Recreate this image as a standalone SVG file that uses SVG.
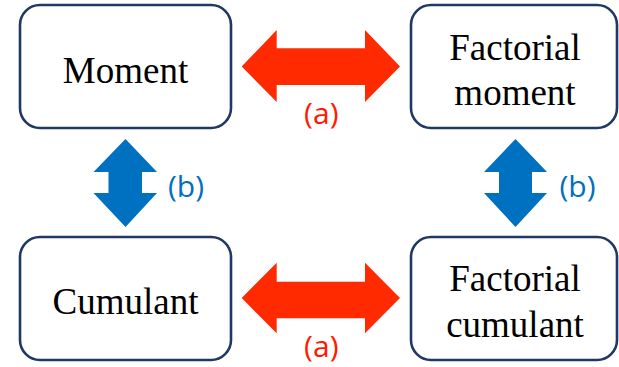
<svg xmlns="http://www.w3.org/2000/svg" width="619" height="367" viewBox="0 0 619 367">
<style>
.box{fill:#fff;stroke:#1f3864;stroke-width:2.6}
.t{font-family:"Liberation Serif","Times New Roman",serif;font-size:37px;fill:#000;text-anchor:middle}
.red{fill:#ff2a00}
.blue{fill:#0070c0}
.la{font-family:"Open Sans","Noto Sans",sans-serif;font-size:30px;fill:#ff1a00;text-anchor:middle}
.lb{font-family:"Open Sans","Noto Sans",sans-serif;font-size:30px;fill:#0070c0;text-anchor:middle}
</style>
<rect width="619" height="367" fill="#fff"/>
<g id="moment">
<rect class="box" x="20" y="5" width="211" height="123" rx="20"/>
<text class="t" x="125.5" y="82.5">Moment</text>
</g>
<g id="factorial-moment">
<rect class="box" x="411" y="5" width="206" height="123" rx="20"/>
<text class="t" x="515" y="60">Factorial</text>
<text class="t" x="515" y="105">moment</text>
</g>
<g id="cumulant">
<rect class="box" x="20" y="237" width="211" height="123" rx="20"/>
<text class="t" x="125.5" y="314">Cumulant</text>
</g>
<g id="factorial-cumulant">
<rect class="box" x="411" y="237" width="206" height="123" rx="20"/>
<text class="t" x="515" y="291">Factorial</text>
<text class="t" x="515" y="336.5">cumulant</text>
</g>
<g id="connectors">
<path class="red" d="M241.7,66.5 L276.7,30 L276.7,48.3 L365,48.3 L365,30 L400,66.5 L365,102 L365,85 L276.7,85 L276.7,102 Z"/>
<path class="red" d="M241.7,298 L276.7,262.7 L276.7,281.7 L365,281.7 L365,262.7 L400,298 L365,333.3 L365,318.3 L276.7,318.3 L276.7,333.3 Z"/>
<path class="blue" d="M125.5,139 L157,172 L142,172 L142,193 L157,193 L125.5,227 L93.5,193 L108.5,193 L108.5,172 L93.5,172 Z"/>
<path class="blue" d="M515.5,139 L547,172 L532,172 L532,193 L547,193 L515.5,227 L484,193 L499,193 L499,172 L484,172 Z"/>
<text class="la" x="321.3" y="123.5">(a)</text>
<text class="la" x="321.3" y="356.5">(a)</text>
<text class="lb" x="186" y="196.5">(b)</text>
<text class="lb" x="577.5" y="196.5">(b)</text>
</g>
</svg>
